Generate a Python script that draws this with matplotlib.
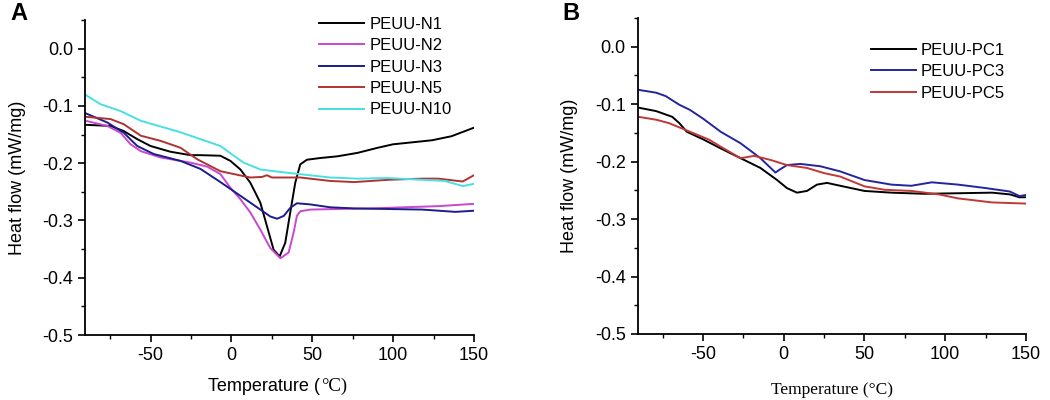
import matplotlib
matplotlib.use("Agg")
import matplotlib.pyplot as plt
from matplotlib.ticker import MultipleLocator, FormatStrFormatter

# ---------------- Data: Panel A ----------------
n1_x = [-90, -74.7, -66.5, -58.2, -50, -37.7, -25.3, -19.1, -6.8, -0.6, 5.6, 11.7, 17.9, 22, 26.1, 29.8, 33.3, 36.4, 39.5, 42.6, 46.7, 54.9, 65.6, 78, 90.6, 100, 107, 124, 136, 150]
n1_y = [-0.133, -0.135, -0.144, -0.158, -0.170, -0.180, -0.186, -0.186, -0.187, -0.196, -0.211, -0.234, -0.269, -0.310, -0.351, -0.363, -0.339, -0.286, -0.234, -0.202, -0.194, -0.191, -0.188, -0.182, -0.173, -0.167, -0.165, -0.160, -0.153, -0.138]

n2_x = [-90, -76.7, -68.5, -62.3, -56, -43.8, -25.3, -15, -6.8, -0.6, 5.6, 11.7, 17.9, 24, 30.3, 35.4, 38.5, 40.5, 42.6, 48.8, 65.6, 86, 107, 128, 150]
n2_y = [-0.126, -0.135, -0.147, -0.167, -0.179, -0.190, -0.199, -0.206, -0.219, -0.243, -0.263, -0.286, -0.316, -0.348, -0.366, -0.356, -0.321, -0.292, -0.284, -0.281, -0.280, -0.279, -0.277, -0.275, -0.271]

n3_x = [-90, -76.7, -66.5, -58.2, -48, -31.5, -19.1, -6.8, 5.6, 17.9, 24, 28.3, 32.4, 36.4, 40.5, 48.8, 61, 76, 97, 118, 138.5, 150]
n3_y = [-0.113, -0.129, -0.147, -0.170, -0.184, -0.196, -0.210, -0.233, -0.257, -0.281, -0.293, -0.297, -0.292, -0.278, -0.270, -0.272, -0.277, -0.279, -0.280, -0.281, -0.285, -0.283]

n5_x = [-90, -74.7, -66.5, -56, -43.8, -31.5, -21.2, -6.8, 1.5, 11.7, 19, 22, 25, 42.6, 61, 76, 97, 118, 128, 143, 150]
n5_y = [-0.119, -0.123, -0.132, -0.152, -0.161, -0.173, -0.193, -0.214, -0.219, -0.225, -0.224, -0.221, -0.225, -0.225, -0.231, -0.233, -0.229, -0.227, -0.227, -0.232, -0.221]

n10_x = [-90, -80.9, -68.5, -56, -31.5, -19.1, -6.8, 1.5, 7.6, 17.9, 32.4, 61, 78, 97, 118, 132, 143, 150]
n10_y = [-0.081, -0.097, -0.109, -0.126, -0.146, -0.158, -0.170, -0.187, -0.199, -0.211, -0.216, -0.225, -0.227, -0.226, -0.229, -0.231, -0.240, -0.236]

# ---------------- Data: Panel B ----------------
pc1_x = [-90, -79, -69, -64.6, -60, -50, -39, -26.7, -14.4, -4.1, 2, 8.2, 14.4, 20.6, 26.8, 35, 50, 66.7, 87.5, 108, 129, 140, 146, 150]
pc1_y = [-0.106, -0.112, -0.122, -0.133, -0.148, -0.161, -0.177, -0.194, -0.211, -0.232, -0.246, -0.254, -0.251, -0.240, -0.237, -0.242, -0.251, -0.254, -0.256, -0.255, -0.254, -0.257, -0.262, -0.262]

pc3_x = [-90, -79, -73, -64.6, -58, -50, -39, -26.7, -14.4, -5.1, -2, 2, 10.3, 22.6, 35, 50, 66.7, 79, 91.7, 108, 125, 140, 146, 150]
pc3_y = [-0.075, -0.080, -0.086, -0.101, -0.110, -0.125, -0.148, -0.168, -0.194, -0.219, -0.213, -0.206, -0.204, -0.208, -0.217, -0.232, -0.240, -0.242, -0.236, -0.240, -0.246, -0.252, -0.260, -0.258]

pc5_x = [-90, -79, -71, -58, -46, -39, -26.7, -18.3, -8.2, 2, 14.4, 25, 35, 50, 62.5, 79, 96, 108, 129, 150]
pc5_y = [-0.122, -0.127, -0.133, -0.148, -0.162, -0.174, -0.194, -0.190, -0.197, -0.206, -0.211, -0.220, -0.226, -0.243, -0.249, -0.251, -0.257, -0.264, -0.271, -0.273]

labels_a = ["PEUU-N1", "PEUU-N2", "PEUU-N3", "PEUU-N5", "PEUU-N10"]
colors_a = ["#000000", "#c848d0", "#1c1c8c", "#b03232", "#48e0e0"]
labels_b = ["PEUU-PC1", "PEUU-PC3", "PEUU-PC5"]
colors_b = ["#000000", "#2424a0", "#c03838"]

SANS = "Liberation Sans"
SERIF = "Liberation Serif"
plt.rcParams['font.family'] = [SANS, 'DejaVu Sans']
plt.rcParams['axes.unicode_minus'] = False

fig = plt.figure(figsize=(10.5, 4), dpi=100)
axA = fig.add_axes([85/1050, 1-335/400, (474-85)/1050, (335-20)/400])
axB = fig.add_axes([637.5/1050, 1-334/400, (1026-637.5)/1050, (334-18)/400])

seriesA = [(n1_x, n1_y), (n2_x, n2_y), (n3_x, n3_y), (n5_x, n5_y), (n10_x, n10_y)]
for (x, y), lab, c in zip(seriesA, labels_a, colors_a):
    axA.plot(x, y, color=c, lw=1.4, label=lab, solid_joinstyle='round')
seriesB = [(pc1_x, pc1_y), (pc3_x, pc3_y), (pc5_x, pc5_y)]
for (x, y), lab, c in zip(seriesB, labels_b, colors_b):
    axB.plot(x, y, color=c, lw=1.4, label=lab, solid_joinstyle='round')

for ax in (axA, axB):
    ax.set_xlim(-90.5, 150)
    ax.set_ylim(-0.5, 0.05)
    for s in ("top", "right"):
        ax.spines[s].set_visible(False)
    for s in ("left", "bottom"):
        ax.spines[s].set_linewidth(1.3)
    ax.xaxis.set_major_locator(MultipleLocator(50))
    ax.xaxis.set_minor_locator(MultipleLocator(25))
    ax.yaxis.set_major_locator(MultipleLocator(0.1))
    ax.yaxis.set_minor_locator(MultipleLocator(0.05))
    ax.yaxis.set_major_formatter(FormatStrFormatter('%.1f'))
    ax.tick_params(which='major', direction='out', length=5, width=1.2, labelsize=13, pad=3.5)
    ax.tick_params(which='minor', direction='out', length=3, width=1.0)
    ax.set_ylabel("Heat flow (mW/mg)", fontsize=13, labelpad=12)

legA = axA.legend(loc='upper left', bbox_to_anchor=(319/1050, 1-17/400), bbox_transform=fig.transFigure,
                  frameon=False, fontsize=12, handlelength=2.7, handletextpad=0.35,
                  labelspacing=0.38, borderpad=0, borderaxespad=0)
legB = axB.legend(loc='upper left', bbox_to_anchor=(871/1050, 1-43/400), bbox_transform=fig.transFigure,
                  frameon=False, fontsize=12, handlelength=2.7, handletextpad=0.3,
                  labelspacing=0.38, borderpad=0, borderaxespad=0)

# Panel B x label in serif
axB.set_xlabel("Temperature (°C)", family=[SERIF, 'DejaVu Serif'], fontsize=12.5, labelpad=14)

# Panel A x label: sans part + serif unit
base_y = 1 - 391/400
tA = fig.text(0, base_y, "Temperature (", fontsize=13, family=[SANS, 'DejaVu Sans'], va='baseline', ha='left')
fig.canvas.draw()
r = fig.canvas.get_renderer()
bb = tA.get_window_extent(r)
uA = fig.text(0, base_y, "°C)", fontsize=13.5, family=[SERIF, 'DejaVu Serif'], va='baseline', ha='left')
bu = uA.get_window_extent(r)
total = bb.width + bu.width
center = 277
start = center - total/2
tA.set_x(start/1050)
uA.set_x((start + bb.width + 1)/1050)

fig.text(10/1050, 1-2/400, "A", fontsize=17, fontweight='bold', va='top', ha='left')
fig.text(562/1050, 1-2/400, "B", fontsize=17, fontweight='bold', va='top', ha='left')

fig.savefig("out.png", dpi=100)
